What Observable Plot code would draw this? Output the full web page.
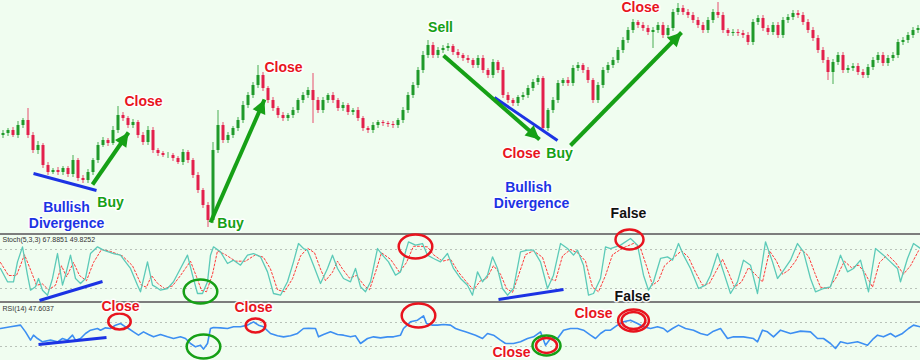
<!DOCTYPE html>
<html><head><meta charset="utf-8">
<script src="https://cdn.jsdelivr.net/npm/d3@7"></script>
<script src="https://cdn.jsdelivr.net/npm/@observablehq/plot@0.6"></script>
<style>
html,body{margin:0;padding:0;overflow:hidden;background:#f0fdf0;}
#chart{position:relative;width:920px;height:360px;overflow:hidden;background:#f0fdf0;}
#chart svg{display:block;overflow:visible;}
#stoch svg{border-top:2px solid #7d7d7d;border-bottom:2px solid #7d7d7d;}
</style></head><body><div id="chart"><div id="price"></div><div id="stoch"></div><div id="rsi"></div></div>
<script>
// ---- candle data (price in chart units, axis inverted: smaller = higher) ----
const firstOpen = 135;
const close = [
133,130,135,125,120,135,150,145,165,172,
170,172,168,174,160,178,180,172,160,145,
140,143,130,115,118,125,122,135,142,130,
150,153,155,155,158,162,152,160,175,190,
205,220,150,125,140,135,128,120,105,95,
85,75,88,100,108,115,118,115,110,100,
95,90,100,110,100,95,100,108,105,112,
110,118,128,130,125,122,123,124,125,120,
110,95,85,70,55,45,55,50,48,46,
52,55,58,60,65,58,70,75,62,70,
95,100,103,97,95,88,82,78,128,110,
100,83,80,83,68,65,70,80,100,85,
70,65,60,50,40,30,22,25,28,32,
30,25,35,28,12,8,12,15,20,25,
30,20,12,15,30,33,32,33,35,42,
22,18,28,32,25,35,20,17,13,15,
22,30,38,50,60,72,62,55,70,68,
66,72,75,67,60,55,63,58,55,42,
40,35,30,28];
const wickUp = [
3,2,3,4,2,12,3,4,2,3,
2,3,2,2,5,2,3,3,2,3,
3,2,4,9,3,2,3,2,3,4,
3,2,2,3,2,2,3,2,2,3,
2,3,8,15,3,3,2,3,4,3,
3,10,3,2,3,2,3,2,3,2,
3,3,17,3,3,2,3,2,3,2,
2,3,2,2,3,2,2,2,3,2,
3,3,3,3,4,5,3,3,3,3,
2,3,2,3,2,3,3,2,3,2,
3,3,2,2,3,3,3,3,2,2,
3,3,2,3,3,3,2,3,2,3,
3,3,3,3,3,3,3,2,3,3,
3,3,3,3,3,5,3,3,3,3,
3,3,3,10,3,2,3,3,3,3,
3,3,3,3,3,3,3,3,3,3,
3,3,3,3,3,3,3,3,3,3,
3,3,3,3,3,3,3,3,3,3,
3,3,3,3];
const wickDn = [
3,3,2,3,3,3,3,4,3,3,
2,3,3,3,3,3,3,3,3,3,
2,3,2,3,3,3,3,3,3,3,
3,3,2,3,3,2,3,3,3,3,
3,7,3,3,3,3,3,3,3,3,
3,3,3,3,3,3,3,3,3,3,
3,3,23,3,3,3,3,3,3,3,
3,3,3,3,3,3,3,3,3,3,
3,3,3,3,3,3,3,3,3,3,
3,3,3,3,3,3,3,3,3,3,
3,3,3,3,3,3,3,3,4,3,
3,3,3,3,3,3,3,3,3,3,
3,3,3,3,3,3,3,3,3,3,
16,3,3,3,3,3,3,3,3,3,
3,3,3,3,3,3,3,3,3,3,
3,3,3,3,3,3,3,3,3,3,
3,3,3,3,3,8,12,3,3,3,
3,3,3,3,3,3,3,3,3,3,
3,3,3,3];

// ---- oscillators: [time, value] ----
const stochK = [[0,50.8],[7,30.3],[13,30.3],[17,61.0],[22,84.1],[27,40.5],[30,17.4],[35,22.6],[38,35.4],[42,17.4],[47,9.7],[52,35.4],[57,73.8],[62,25.1],[65,40.5],[70,71.3],[75,35.4],[80,27.7],[85,35.4],[90,73.8],[97,84.1],[103,79.0],[113,73.8],[120,71.3],[125,61.0],[130,50.8],[137,25.1],[140,14.9],[147,61.0],[152,25.1],[155,22.6],[160,17.4],[167,20.0],[173,30.3],[180,50.8],[187,71.3],[192,40.5],[197,12.3],[202,12.3],[207,30.3],[210,71.3],[213,84.1],[220,76.4],[227,58.5],[233,63.6],[240,55.9],[247,71.3],[253,73.8],[260,68.7],[267,45.6],[273,12.3],[280,9.7],[287,30.3],[293,61.0],[298,89.2],[303,81.5],[307,79.0],[313,55.9],[320,27.7],[327,50.8],[332,71.3],[337,50.8],[343,35.4],[350,30.3],[355,50.8],[360,22.6],[365,14.9],[370,30.3],[377,81.5],[382,71.3],[388,61.0],[395,40.5],[400,45.6],[405,76.4],[408,91.8],[415,86.7],[422,89.2],[427,71.3],[433,66.2],[440,61.0],[447,73.8],[453,50.8],[460,35.4],[467,25.1],[472,9.7],[477,45.6],[482,30.3],[487,40.5],[492,68.7],[497,50.8],[502,20.0],[507,9.7],[513,20.0],[520,76.4],[527,79.0],[533,79.0],[540,61.0],[547,20.0],[553,40.5],[560,89.2],[567,81.5],[573,71.3],[577,79.0],[583,55.9],[588,9.7],[593,12.3],[600,35.4],[605,84.1],[610,81.5],[620,86.7],[630,96.9],[637,86.7],[643,40.5],[648,17.4],[653,30.3],[660,66.2],[667,68.7],[672,63.6],[678,89.2],[683,71.3],[690,50.8],[698,20.0],[705,25.1],[710,40.5],[717,73.8],[723,45.6],[730,12.3],[737,30.3],[743,63.6],[750,55.9],[757,12.3],[765,91.8],[772,61.0],[777,35.4],[782,45.6],[790,63.6],[797,89.2],[803,76.4],[810,35.4],[815,14.9],[823,20.0],[830,22.6],[840,71.3],[847,45.6],[853,50.8],[860,63.6],[868,14.9],[875,81.5],[883,71.3],[890,61.0],[897,50.8],[900,30.3],[907,66.2],[913,89.2],[920,81.5]];
const stochD = [[0,60],[8,40],[16,40],[24,72],[31,45],[36,25],[42,27],[48,18],[55,25],[61,55],[66,38],[73,60],[79,40],[86,32],[93,60],[101,80],[110,77],[122,70],[132,55],[141,25],[146,22],[151,40],[157,28],[164,20],[172,24],[180,40],[190,62],[196,38],[201,17],[206,15],[212,42],[217,78],[225,72],[235,62],[245,62],[255,72],[263,68],[270,50],[277,18],[284,15],[292,35],[300,70],[307,82],[314,75],[320,50],[325,32],[332,45],[337,62],[342,50],[349,36],[356,40],[364,24],[369,18],[375,45],[381,75],[390,65],[399,45],[406,60],[413,85],[420,85],[427,84],[433,72],[442,62],[450,65],[458,45],[466,30],[473,18],[480,32],[486,35],[493,55],[500,42],[506,20],[512,14],[518,40],[525,72],[533,78],[542,68],[549,35],[555,32],[562,70],[570,80],[578,74],[585,62],[592,22],[598,15],[605,40],[612,72],[622,82],[634,90],[640,82],[647,50],[652,25],[658,32],[664,55],[672,66],[681,78],[688,68],[695,45],[702,25],[709,28],[715,45],[722,65],[727,48],[734,22],[741,30],[748,52],[756,40],[762,30],[769,78],[776,62],[782,42],[788,48],[795,62],[801,80],[808,70],[814,45],[820,22],[828,20],[835,35],[844,62],[851,52],[858,56],[864,45],[872,22],[879,60],[887,72],[895,60],[903,42],[910,55],[918,78]];
const rsi = [[0,60],[10,62.8],[20,65.6],[25,54.4],[30,40.6],[33,48.9],[37,43.3],[42,37.8],[50,40.6],[57,37.8],[62,43.3],[67,40.6],[72,48.9],[75,40.6],[80,43.3],[85,51.7],[90,57.2],[97,60],[100,57.2],[105,61.1],[110,60],[115,65.6],[120,68.3],[125,62.8],[128,60],[133,54.4],[138,48.9],[143,54.4],[148,50],[153,46.1],[160,50],[167,46.1],[173,43.3],[180,46.1],[185,43.3],[190,35],[195,29.4],[200,32.2],[203,25.6],[207,35],[210,60],[213,61.7],[220,61.1],[227,60],[233,62.8],[240,62.8],[247,65.6],[253,71.1],[258,65.6],[263,62.8],[270,51.7],[277,47.8],[283,46.1],[290,47.8],[297,51.7],[303,60],[308,60.5],[315,60],[318,46.1],[323,50],[330,54.4],[337,50],[343,48.9],[350,46.1],[355,47.8],[360,35],[367,43.3],[373,46.1],[380,44.4],[387,46.1],[393,46.1],[400,48.9],[403,60],[410,71.1],[417,73.9],[423,81.1],[426,68.3],[432,65.6],[437,65.6],[443,66.7],[450,65.6],[455,60],[460,57.2],[465,54.4],[470,51.7],[475,48.9],[482,43.3],[487,51.7],[493,48.9],[500,40.6],[505,35],[513,35],[520,37.8],[527,43.3],[533,46.1],[540,54.4],[545,32.2],[550,43.3],[557,43.3],[563,57.2],[570,60],[577,60],[583,57.2],[590,48.9],[595,43.3],[600,51.7],[605,57.2],[610,57.2],[617,65.6],[623,71.1],[630,73.9],[637,68.3],[643,62.8],[650,60],[657,62.8],[663,60],[667,54.4],[672,60],[678,65.6],[685,60],[693,57.2],[700,51.7],[707,48.9],[713,55.6],[720,60],[727,43.3],[733,46.1],[743,46.1],[753,43.3],[757,37.8],[762,57.2],[767,54.4],[773,46.1],[780,57.2],[790,51.7],[800,55.6],[810,54.4],[817,43.3],[823,43.3],[830,35],[835,26.7],[840,37.8],[847,35],[857,37.8],[867,32.2],[873,43.3],[877,48.9],[883,46.1],[890,51.7],[895,46.1],[902,51.7],[908,60],[913,65.6],[920,62.8]];
const stochLevels = [80, 20];
const rsiLevels = [70, 30];
const stochLabel = "Stoch(5,3,3) 67.8851 49.8252";
const rsiLabel = "RSI(14) 47.6037";

// ---- annotations ----
const priceArrows = [[92,184,128,132],[210,222,264,99],[443,55,539,139],[570,145,681,32]];
const priceBlueLines = [[33,173,96,190],[494,97,557,140]];
const priceLabels = [
  ["Close",143,101,"red"],["Buy",110,202,"green"],["Bullish",66,207,"blue"],["Divergence",66,223,"blue"],
  ["Buy",230,223,"green"],["Close",283,67,"red"],["Sell",440,27,"green"],["Close",521,153,"red"],
  ["Buy",559,153,"green"],["Bullish",528,187,"blue"],["Divergence",531,203,"blue"],["Close",640,7,"red"],
  ["False",628,213,"black"]];
const stochBlueLines = [[39,1.5,102,30.8],[498,3.1,563,18.5]];
const stochRings = [[200,15.4,12,"green"],[415,84.6,12,"red"],[629,95.4,10,"red"]];
const stochLabels = [["False",632,7.7,"black"]];
const rsiBlueLines = [[38,33.3,106,45]];
const rsiRings = [[119,71.7,8,"red"],[203,30,12,"green"],[255,65,7,"red"],[418,81.7,12,"red"],[546,31.7,10,"green"],[546,31.7,7.5,"red"],[633,73.3,11,"red"],[633,73.3,8.5,"red"]];
const rsiLabels = [["Close",120,96.7,"red"],["Close",253,95,"red"],["Close",593,85,"red"],["Close",511,20,"red"]];

const COL = {red:"#e8141e", green:"#16a016", blue:"#1c33e4", black:"#111"};
const UP = "#1f9a2a", DOWN = "#e3204c";
const FONT = "Liberation Sans, Arial, sans-serif";

const candles = close.map((c, i) => {
  const o = i ? close[i - 1] : firstOpen;
  return {t: 2.5 + 5 * i, open: o, close: c,
    high: Math.min(o, c) - wickUp[i], low: Math.max(o, c) + wickDn[i],
    col: c <= o ? UP : DOWN};
});
const seg = a => a.map(([x1, y1, x2, y2]) => ({x1, y1, x2, y2}));
const lab = a => a.map(([text, x, y, c]) => ({text, x, y, c: COL[c]}));

const ellipse = {draw(ctx, size) {
  const ry = Math.sqrt(size / Math.PI), rx = ry * 1.4, k = 0.5523;
  ctx.moveTo(rx, 0);
  ctx.bezierCurveTo(rx, k * ry, k * rx, ry, 0, ry);
  ctx.bezierCurveTo(-k * rx, ry, -rx, k * ry, -rx, 0);
  ctx.bezierCurveTo(-rx, -k * ry, -k * rx, -ry, 0, -ry);
  ctx.bezierCurveTo(k * rx, -ry, rx, -k * ry, rx, 0);
  ctx.closePath();
}};
// arrow head: tip at the origin, pointing up
const head = {draw(ctx, size) {
  const s = Math.sqrt(size / Math.PI), h = s * 2.3, w = s * 1.15;
  ctx.moveTo(0, 0); ctx.lineTo(w, h); ctx.lineTo(-w, h); ctx.closePath();
}};
const rings = a => a.map(([x, y, r, c]) => Plot.dot([{x, y}], {x: "x", y: "y", r, symbol: ellipse, fill: "none", stroke: COL[c], strokeWidth: 2.5}));
const texts = a => Plot.text(lab(a), {x: "x", y: "y", text: "text", fill: "c", fontSize: 14, fontWeight: "bold", fontFamily: FONT, stroke: "white", strokeWidth: 3, strokeOpacity: 0.9});
const X = {domain: [0, 920], axis: null};
const style = {background: "transparent", overflow: "visible"};
const arrows = seg(priceArrows);

const price = Plot.plot({
  width: 920, height: 233, margin: 0, style,
  x: X, y: {domain: [233, 0], axis: null},
  marks: [
    Plot.ruleX(candles, {x: "t", y1: "low", y2: "high", stroke: "col", strokeWidth: 1, strokeOpacity: 0.8}),
    Plot.ruleX(candles, {x: "t", y1: "open", y2: "close", stroke: "col", strokeWidth: 3}),
    Plot.link(seg(priceBlueLines), {x1: "x1", y1: "y1", x2: "x2", y2: "y2", stroke: COL.blue, strokeWidth: 3}),
    Plot.link(arrows, {x1: "x1", y1: "y1", x2: "x2", y2: "y2", stroke: COL.green, strokeWidth: 4}),
    Plot.dot(arrows, {x: "x2", y: "y2", r: 6, symbol: head, fill: COL.green, stroke: "none",
      rotate: d => Math.atan2(d.x2 - d.x1, -(d.y2 - d.y1)) * 180 / Math.PI}),
    texts(priceLabels)
  ]
});

const stoch = Plot.plot({
  width: 920, height: 66, marginTop: 1, marginBottom: 0, marginLeft: 0, marginRight: 0, style,
  x: X, y: {domain: [0, 100], axis: null},
  marks: [
    Plot.ruleY(stochLevels, {stroke: "#b9c2b9", strokeDasharray: "2,3"}),
    Plot.line(stochD, {x: d => d[0], y: d => d[1], stroke: "#ff3a3a", strokeWidth: 1, strokeDasharray: "2,2"}),
    Plot.line(stochK, {x: d => d[0], y: d => d[1], stroke: "#5ccab8", strokeWidth: 1.3}),
    Plot.text([stochLabel], {frameAnchor: "top-left", dx: 2, dy: 1, fontSize: 7, fill: "#333", fontFamily: FONT}),
    Plot.link(seg(stochBlueLines), {x1: "x1", y1: "y1", x2: "x2", y2: "y2", stroke: COL.blue, strokeWidth: 3}),
    ...rings(stochRings),
    texts(stochLabels)
  ]
});

const rsiPlot = Plot.plot({
  width: 920, height: 61, marginTop: 1, marginBottom: 0, marginLeft: 0, marginRight: 0, style,
  x: X, y: {domain: [0, 100], axis: null},
  marks: [
    Plot.ruleY(rsiLevels, {stroke: "#b9c2b9", strokeDasharray: "2,3"}),
    Plot.line(rsi, {x: d => d[0], y: d => d[1], stroke: "#3d8ff2", strokeWidth: 1.6}),
    Plot.text([rsiLabel], {frameAnchor: "top-left", dx: 2, dy: 2, fontSize: 7, fill: "#333", fontFamily: FONT}),
    Plot.link(seg(rsiBlueLines), {x1: "x1", y1: "y1", x2: "x2", y2: "y2", stroke: COL.blue, strokeWidth: 3}),
    ...rings(rsiRings),
    texts(rsiLabels)
  ]
});

document.getElementById("price").append(price);
document.getElementById("stoch").append(stoch);
document.getElementById("rsi").append(rsiPlot);
</script></body></html>
